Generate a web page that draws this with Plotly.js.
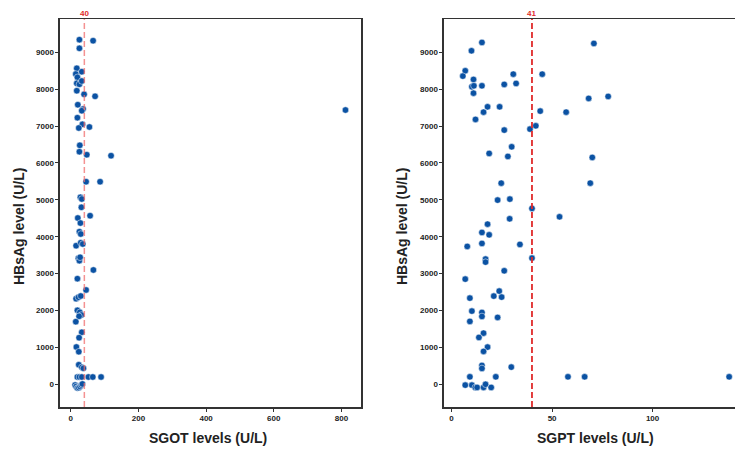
<!DOCTYPE html>
<html>
<head>
<meta charset="utf-8">
<script src="https://cdn.plot.ly/plotly-3.0.1.min.js"></script>
<style>html,body{margin:0;padding:0;background:#fff;}#chart{width:735px;height:449px;}</style>
</head>
<body>
<div id="chart"></div>
<script>
// SGOT panel (left)
const sgot = [25.4, 65.9, 25.4, 17.7, 14.8, 32.5, 19.5, 17.7, 25.4, 32.5,
  17.7, 39.3, 71.8, 20.7, 36.3, 32.5, 19.5, 34.3, 23.6, 55,
  26.6, 25.4, 47.3, 119, 812, 45.2, 86.6, 28.4, 32.5, 31.3,
  20.7, 57, 28.4, 25.4, 29.5, 15.7, 29.5, 35.4, 22.5, 25.4,
  27.5, 66.8, 19.5, 45.2, 15.7, 22.5, 29.5, 19.5, 26.6, 31.3,
  24.5, 14.8, 32.5, 24.5, 16.5, 23.6, 23.6, 32.5, 37.2, 19.5,
  25.4, 32.5, 52, 65, 89.5, 12.7, 15.7, 19.5, 23.6, 27.5,
  31.3, 34.3];
const hbsagSgot = [9339, 9311, 9106, 8564, 8409, 8471, 8320, 8157, 8130, 8219,
  7956, 7859, 7805, 7577, 7460, 7415, 7225, 7046, 6946, 6973,
  6477, 6303, 6222, 6195, 7433, 5490, 5490, 5068, 5022, 4797,
  4507, 4569, 4370, 4136, 4073, 3756, 3837, 3802, 3415, 3350,
  3442, 3098, 2862, 2556, 2320, 2358, 2393, 2005, 1951, 1878,
  1843, 1697, 1409, 1263, 1011, 883, 530, 461, 434, 198,
  198, 198, 198, 198, 198, -20, -60, -100, -90, -60,
  -20, 10];

// SGPT panel (right)
const sgpt = [15.1, 9.9, 70.8, 6.8, 5.6, 10.9, 30.7, 45.1, 10.1, 11.1,
  15.1, 26.2, 32.1, 10.9, 68.2, 77.9, 17.9, 23.9, 15.9, 44.1,
  57.0, 11.9, 26.2, 39.0, 41.9, 29.9, 18.7, 28.0, 70.0, 24.7,
  69.0, 22.9, 29.0, 40.0, 53.7, 28.9, 17.9, 15.1, 18.7, 7.8,
  15.1, 34.0, 40.0, 16.9, 16.9, 26.2, 6.8, 23.7, 21.0, 24.9,
  9.1, 10.1, 15.1, 15.1, 22.9, 9.1, 15.9, 13.6, 17.9, 15.9,
  15.1, 15.1, 29.7, 9.1, 22.0, 57.9, 66.2, 138.1, 6.8, 10.1,
  11.8, 12.7, 15.9, 16.9, 19.7];
const hbsagSgpt = [9265, 9038, 9238, 8496, 8352, 8262, 8406, 8406, 8062, 8090,
  8090, 8127, 8154, 7891, 7748, 7802, 7520, 7520, 7376, 7404,
  7376, 7179, 6889, 6916, 7005, 6436, 6257, 6176, 6149, 5452,
  5452, 4992, 5019, 4767, 4539, 4485, 4341, 4116, 4051, 3737,
  3818, 3791, 3420, 3393, 3312, 3076, 2851, 2526, 2390, 2363,
  2336, 1984, 1948, 1840, 1813, 1705, 1387, 1271, 1008, 892,
  512, 431, 466, 203, 203, 203, 203, 203, -22, -22,
  -84, -84, -84, 0, -84];

const sgotCut = 40, sgotCutLabel = "40";
const sgptCut = 40, sgptCutLabel = "41";
const yTicks = [0, 1000, 2000, 3000, 4000, 5000, 6000, 7000, 8000, 9000];
const sgotTicks = [0, 200, 400, 600, 800];
const sgptTicks = [0, 50, 100];

const markerStyle = {size: 6.5, color: '#0b52a3', line: {color: '#ffffff', width: 0.5}};
const traces = [
  {x: sgot, y: hbsagSgot, type: 'scatter', mode: 'markers', marker: markerStyle, xaxis: 'x', yaxis: 'y', hoverinfo: 'x+y'},
  {x: sgpt, y: hbsagSgpt, type: 'scatter', mode: 'markers', marker: markerStyle, xaxis: 'x2', yaxis: 'y2', hoverinfo: 'x+y'}
];

const bold = v => '<b>' + v + '</b>';
const tickFont = {family: 'Liberation Sans, Arial, sans-serif', size: 8, color: '#222'};
const axBase = {
  showgrid: false, zeroline: false, showline: true, linecolor: '#333', linewidth: 1.5,
  ticks: 'outside', ticklen: 3, tickwidth: 1, tickcolor: '#333', tickfont: tickFont
};
const titleFont = {family: 'Liberation Sans, Arial, sans-serif', size: 14, color: '#222'};
const redFont = {family: 'Liberation Sans, Arial, sans-serif', size: 8, color: '#e02b2b'};

const layout = {
  width: 735, height: 449,
  margin: {l: 0, r: 0, t: 19, b: 42},
  paper_bgcolor: '#fff', plot_bgcolor: '#fff',
  showlegend: false,
  xaxis: Object.assign({}, axBase, {domain: [0.0816, 0.4912], range: [-32, 858], tickvals: sgotTicks, ticktext: sgotTicks.map(bold), mirror: true, anchor: 'y'}),
  yaxis: Object.assign({}, axBase, {domain: [0, 1], range: [-615, 9900], tickvals: yTicks, ticktext: yTicks.map(bold), mirror: true, anchor: 'x'}),
  xaxis2: Object.assign({}, axBase, {domain: [0.604, 1], range: [-3.8, 141], tickvals: sgptTicks, ticktext: sgptTicks.map(bold), mirror: true, anchor: 'y2'}),
  yaxis2: Object.assign({}, axBase, {domain: [0, 1], range: [-615, 9900], tickvals: yTicks, ticktext: yTicks.map(bold), mirror: false, anchor: 'x2'}),
  shapes: [
    {type: 'line', xref: 'x', yref: 'y domain', x0: sgotCut, x1: sgotCut, y0: 0, y1: 1,
     line: {color: 'rgba(240,110,110,0.75)', width: 1.5, dash: '6px,3px'}},
    {type: 'line', xref: 'x2', yref: 'y2 domain', x0: sgptCut, x1: sgptCut, y0: 0, y1: 1,
     line: {color: '#e02b2b', width: 1.8, dash: '6px,3px'}}
  ],
  annotations: [
    {xref: 'x', yref: 'paper', x: sgotCut, y: 1, yshift: 6, xanchor: 'center', yanchor: 'middle', text: bold(sgotCutLabel), showarrow: false, font: redFont},
    {xref: 'x2', yref: 'paper', x: sgptCut, y: 1, yshift: 6, xanchor: 'center', yanchor: 'middle', text: bold(sgptCutLabel), showarrow: false, font: redFont},
    {xref: 'paper', yref: 'paper', x: 208 / 735, y: 0, yshift: -31, xanchor: 'center', yanchor: 'middle', text: bold('SGOT levels (U/L)'), showarrow: false, font: titleFont},
    {xref: 'paper', yref: 'paper', x: 595 / 735, y: 0, yshift: -31, xanchor: 'center', yanchor: 'middle', text: bold('SGPT levels (U/L)'), showarrow: false, font: titleFont},
    {xref: 'paper', yref: 'paper', x: 19 / 735, y: 0.5, yshift: -14, xanchor: 'center', yanchor: 'middle', textangle: -90, text: bold('HBsAg level (U/L)'), showarrow: false, font: titleFont},
    {xref: 'paper', yref: 'paper', x: 402 / 735, y: 0.5, yshift: -14, xanchor: 'center', yanchor: 'middle', textangle: -90, text: bold('HBsAg level (U/L)'), showarrow: false, font: titleFont}
  ]
};

Plotly.newPlot('chart', traces, layout, {displayModeBar: false, staticPlot: true});
</script>
</body>
</html>
